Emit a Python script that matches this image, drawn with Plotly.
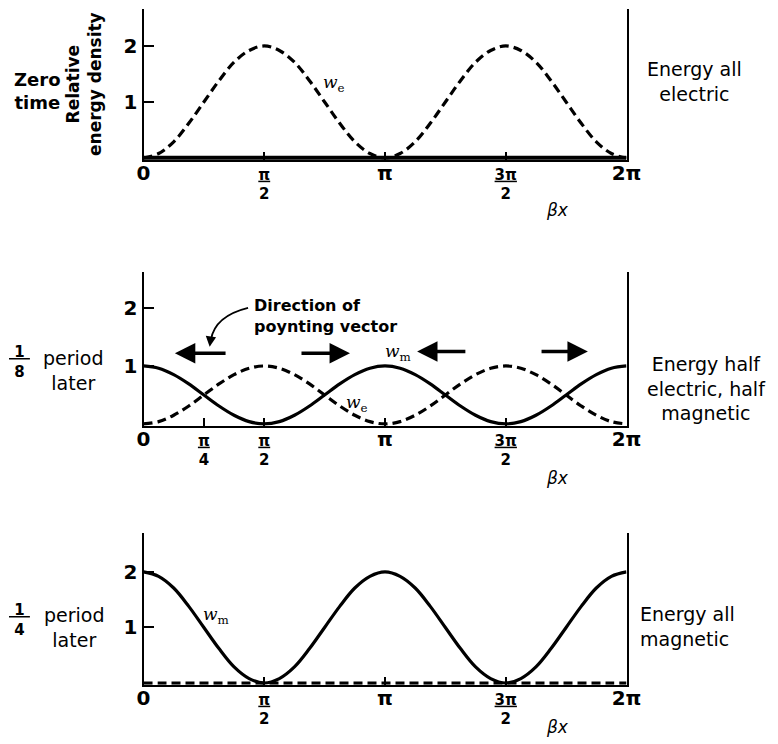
import plotly.graph_objects as go

# ---------------- data (x in units of pi, step pi/16) ----------------
bx_over_pi = [0.0, 0.0625, 0.125, 0.1875, 0.25, 0.3125, 0.375, 0.4375, 0.5,
              0.5625, 0.625, 0.6875, 0.75, 0.8125, 0.875, 0.9375, 1.0,
              1.0625, 1.125, 1.1875, 1.25, 1.3125, 1.375, 1.4375, 1.5,
              1.5625, 1.625, 1.6875, 1.75, 1.8125, 1.875, 1.9375, 2.0]

# panel 1: zero time  (energy all electric)
we_zero = [0.0, 0.08, 0.29, 0.62, 1.0, 1.38, 1.71, 1.92, 2.0,
           1.92, 1.71, 1.38, 1.0, 0.62, 0.29, 0.08, 0.0,
           0.08, 0.29, 0.62, 1.0, 1.38, 1.71, 1.92, 2.0,
           1.92, 1.71, 1.38, 1.0, 0.62, 0.29, 0.08, 0.0]
wm_zero = [0.0] * 33

# panel 2: 1/8 period later (half electric, half magnetic)
wm_eighth = [1.0, 0.96, 0.85, 0.69, 0.5, 0.31, 0.15, 0.04, 0.0,
             0.04, 0.15, 0.31, 0.5, 0.69, 0.85, 0.96, 1.0,
             0.96, 0.85, 0.69, 0.5, 0.31, 0.15, 0.04, 0.0,
             0.04, 0.15, 0.31, 0.5, 0.69, 0.85, 0.96, 1.0]
we_eighth = [0.0, 0.04, 0.15, 0.31, 0.5, 0.69, 0.85, 0.96, 1.0,
             0.96, 0.85, 0.69, 0.5, 0.31, 0.15, 0.04, 0.0,
             0.04, 0.15, 0.31, 0.5, 0.69, 0.85, 0.96, 1.0,
             0.96, 0.85, 0.69, 0.5, 0.31, 0.15, 0.04, 0.0]

# panel 3: 1/4 period later (energy all magnetic)
wm_quarter = [2.0, 1.92, 1.71, 1.38, 1.0, 0.62, 0.29, 0.08, 0.0,
              0.08, 0.29, 0.62, 1.0, 1.38, 1.71, 1.92, 2.0,
              1.92, 1.71, 1.38, 1.0, 0.62, 0.29, 0.08, 0.0,
              0.08, 0.29, 0.62, 1.0, 1.38, 1.71, 1.92, 2.0]
we_quarter = [0.0] * 33

# tick values / labels
x_ticks_main = [0, 0.5, 1, 1.5, 2]
x_labels_main = ["0", "π/2", "π", "3π/2", "2π"]
x_ticks_mid = [0, 0.25, 0.5, 1, 1.5, 2]
x_labels_mid = ["0", "π/4", "π/2", "π", "3π/2", "2π"]
y_ticks = [1, 2]
y_labels = ["1", "2"]

# Poynting-vector arrows (tail, head) in units of pi, at panel-2 height
poynting_tails = [0.346, 0.648, 1.339, 1.642]
poynting_heads = [0.130, 0.855, 1.133, 1.840]
poynting_level = [1.22, 1.22, 1.25, 1.25]

# ---------------- styling helpers ----------------
OFF = 8                      # default page margin of the html body
W, H = 778 - OFF, 744 - OFF  # figure size so the page fits the window
FONT = "DejaVu Sans"


def px(x, y):
    """page pixel -> paper coordinate"""
    return (x - OFF) / W, 1 - (y - OFF) / H


def fmt_tick(s):
    if "/" in s:
        num, den = s.split("/")
        return f"<b><u>{num}</u></b><br><b>{den}</b>"
    return f"<span style='font-size:20px'><b>{s}</b></span>"


X_DOM = [px(143.5, 0)[0], px(626.5, 0)[0]]
panels = [
    dict(dom=(159.7, 9.0), ytop=2.66),
    dict(dom=(425.7, 272.0), ytop=2.62),
    dict(dom=(684.7, 533.0), ytop=2.70),
]

fig = go.Figure()

DASH = "9px,5px"
LW = 3.2

series = [
    (1, bx_over_pi, wm_zero, "solid", 4.5),
    (1, bx_over_pi, we_zero, DASH, LW),
    (2, bx_over_pi, wm_eighth, "solid", LW),
    (2, bx_over_pi, we_eighth, DASH, LW),
    (3, bx_over_pi, wm_quarter, "solid", LW),
    (3, bx_over_pi, we_quarter, DASH, LW),
]
for k, xs, ys, dash, lw in series:
    fig.add_trace(go.Scatter(
        x=xs, y=ys, mode="lines",
        line=dict(color="black", width=lw, dash=dash, shape="spline", smoothing=1.0),
        xaxis="x" if k == 1 else f"x{k}", yaxis="y" if k == 1 else f"y{k}",
        showlegend=False, hoverinfo="skip"))

layout = dict(template="none", width=W, height=H,
              margin=dict(l=0, r=0, t=0, b=0, pad=0, autoexpand=False),
              paper_bgcolor="white", plot_bgcolor="white",
              font=dict(family=FONT, color="black"), showlegend=False)

for i, p in enumerate(panels, start=1):
    sfx = "" if i == 1 else str(i)
    b, t = p["dom"]
    tv = x_ticks_mid if i == 2 else x_ticks_main
    tl = x_labels_mid if i == 2 else x_labels_main
    layout[f"xaxis{sfx}"] = dict(
        domain=X_DOM, range=[0, 2], anchor=f"y{sfx}", automargin=False,
        showgrid=False, zeroline=False, showline=True, linecolor="black",
        linewidth=2, mirror=False, ticks="inside", ticklen=8, tickwidth=1.5,
        tickcolor="black", tickvals=tv, ticktext=[fmt_tick(s) for s in tl],
        tickfont=dict(family=FONT, size=15, color="black"), fixedrange=True)
    layout[f"yaxis{sfx}"] = dict(
        domain=[px(0, b)[1], px(0, t)[1]], range=[-0.03, p["ytop"]],
        anchor=f"x{sfx}", automargin=False,
        showgrid=False, zeroline=False, showline=True, linecolor="black",
        linewidth=2, mirror=True, ticks="inside", ticklen=10, tickwidth=1.5,
        tickcolor="black", tickvals=y_ticks,
        ticktext=[f"<b>{s}</b>" for s in y_labels],
        tickfont=dict(family=FONT, size=20, color="black"), fixedrange=True)

fig.update_layout(**layout)

ann = []


def text_px(x, y, txt, size=19, xanchor="center", align="center", angle=0):
    ax_, ay_ = px(x, y)
    ann.append(dict(x=ax_, y=ay_, xref="paper", yref="paper", text=txt,
                    showarrow=False, xanchor=xanchor, yanchor="middle",
                    align=align, textangle=angle,
                    font=dict(family=FONT, size=size, color="black")))


# left labels
text_px(37, 91, "<b>Zero<br>time</b>", size=18)
text_px(84, 84, "<b>Relative<br>energy density</b>", size=17, angle=-90)
text_px(19, 362, "<b><u>\u00a01\u00a0</u></b><br><b>8</b>", size=15)
text_px(73, 370, "period<br>later", size=19)
text_px(19, 620, "<b><u>\u00a01\u00a0</u></b><br><b>4</b>", size=15)
text_px(74, 627, "period<br>later", size=19)

# right labels
text_px(694, 81, "Energy all<br>electric", size=19)
text_px(706, 388, "Energy half<br>electric, half<br>magnetic", size=19)
text_px(638, 626, "Energy all<br>magnetic", size=19, xanchor="left", align="left")

# beta x labels
for yy in (210, 478, 727):
    text_px(557, yy, "<i>βx</i>", size=17)

# curve labels
def wlab(x, y, sub, axis):
    ann.append(dict(x=x, y=y, xref=axis[0], yref=axis[1],
                    text=f"<i>w</i><sub>{sub}</sub>", showarrow=False,
                    font=dict(family="DejaVu Serif", size=17, color="black")))


wlab(0.789, 1.33, "e", ("x", "y"))
wlab(1.054, 1.24, "m", ("x2", "y2"))
wlab(0.884, 0.36, "e", ("x2", "y2"))
wlab(0.30, 1.22, "m", ("x3", "y3"))

# Poynting vector arrows
for t, h, lv in zip(poynting_tails, poynting_heads, poynting_level):
    ann.append(dict(x=h, y=lv, ax=t, ay=lv, xref="x2", yref="y2",
                    axref="x2", ayref="y2", text="", showarrow=True,
                    arrowhead=2, arrowsize=1.2, arrowwidth=3.4,
                    arrowcolor="black"))

# "Direction of poynting vector" label with curved pointer
ann.append(dict(x=0.449, y=1.86, xref="x2", yref="y2",
                text="<b>Direction of<br>poynting vector</b>", showarrow=False,
                xanchor="left", yanchor="middle", align="left",
                font=dict(family=FONT, size=16, color="black")))
ann.append(dict(x=0.274, y=1.33, ax=0.279, ay=1.50, xref="x2", yref="y2",
                axref="x2", ayref="y2", text="", showarrow=True,
                arrowhead=2, arrowsize=1.3, arrowwidth=1.6, arrowcolor="black"))
fig.add_shape(type="path", xref="x2", yref="y2",
              path="M 0.433,2.0 Q 0.296,1.86 0.279,1.45",
              line=dict(color="black", width=1.8))

fig.update_layout(annotations=ann)
fig.write_html("out.html")
